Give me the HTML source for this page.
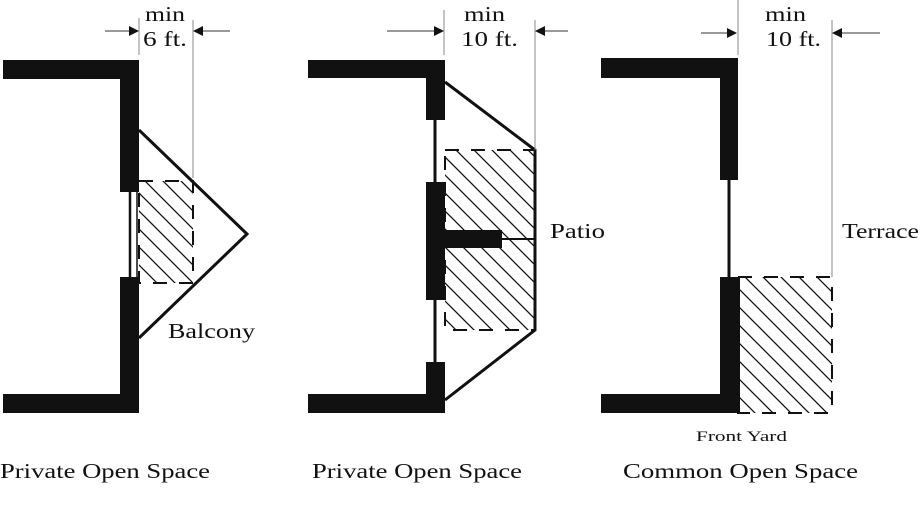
<!DOCTYPE html>
<html><head><meta charset="utf-8"><style>
html,body{margin:0;padding:0;background:#fff;width:921px;height:505px;overflow:hidden}
svg{display:block}
text{font-family:"Liberation Serif",serif;fill:#111}
</style></head><body>
<svg width="921" height="505" viewBox="0 0 921 505">
<defs>
<pattern id="hatch" patternUnits="userSpaceOnUse" width="18" height="18">
<path d="M0,0 L18,18 M-9,9 L9,27 M9,-9 L27,9" stroke="#111" stroke-width="1.3"/>
</pattern>
<marker id="ah" markerWidth="10" markerHeight="10" refX="9" refY="5" orient="auto" markerUnits="userSpaceOnUse">
<path d="M0,0 L10,5 L0,10 Z" fill="#111"/>
</marker>
</defs>

<!-- Panel 1 -->
<g>
<rect x="139" y="181" width="54" height="102" fill="url(#hatch)"/>
<rect x="139" y="181" width="54" height="102" fill="none" stroke="#111" stroke-width="2" stroke-dasharray="14,12"/>
<polyline points="139,130 247,234 139,338" fill="none" stroke="#111" stroke-width="3"/>
<path d="M3,60 H139 V192 H120 V79 H3 Z" fill="#111"/>
<path d="M3,413 H139 V277 H120 V394 H3 Z" fill="#111"/>
<line x1="130" y1="192" x2="130" y2="277" stroke="#111" stroke-width="2.5"/>
<line x1="137" y1="192" x2="137" y2="277" stroke="#111" stroke-width="1.5"/>
<line x1="139" y1="18" x2="139" y2="55" stroke="#888" stroke-width="1"/>
<line x1="193" y1="20" x2="193" y2="178" stroke="#888" stroke-width="1"/>
<line x1="105" y1="31" x2="138" y2="31" stroke="#333" stroke-width="1" marker-end="url(#ah)"/>
<line x1="230" y1="31" x2="194" y2="31" stroke="#333" stroke-width="1" marker-end="url(#ah)"/>
<text x="145" y="21" font-size="21" textLength="40" lengthAdjust="spacingAndGlyphs">min</text>
<text x="143" y="46" font-size="21" textLength="44" lengthAdjust="spacingAndGlyphs">6 ft.</text>
<text x="168" y="338" font-size="21" textLength="87" lengthAdjust="spacingAndGlyphs">Balcony</text>
<text x="0" y="478" font-size="21" textLength="210" lengthAdjust="spacingAndGlyphs">Private Open Space</text>
</g>

<!-- Panel 2 -->
<g>
<rect x="445" y="150" width="90" height="180" fill="url(#hatch)"/>
<rect x="445" y="150" width="90" height="180" fill="none" stroke="#111" stroke-width="2" stroke-dasharray="14,12"/>
<polyline points="445,82 535,150 535,330 445,400" fill="none" stroke="#111" stroke-width="3"/>
<path d="M308,60 H445 V120 H426 V78 H308 Z" fill="#111"/>
<path d="M308,413 H445 V362 H426 V394 H308 Z" fill="#111"/>
<rect x="426" y="182" width="19" height="118" fill="#111"/>
<rect x="445" y="230" width="57" height="18" fill="#111"/>
<line x1="502" y1="239" x2="535" y2="239" stroke="#111" stroke-width="2"/>
<line x1="435" y1="120" x2="435" y2="182" stroke="#111" stroke-width="3"/>
<line x1="435" y1="300" x2="435" y2="362" stroke="#111" stroke-width="3"/>
<line x1="444" y1="10" x2="444" y2="55" stroke="#888" stroke-width="1"/>
<line x1="535" y1="20" x2="535" y2="150" stroke="#888" stroke-width="1"/>
<line x1="387" y1="31" x2="443" y2="31" stroke="#333" stroke-width="1" marker-end="url(#ah)"/>
<line x1="568" y1="31" x2="536" y2="31" stroke="#333" stroke-width="1" marker-end="url(#ah)"/>
<text x="464" y="21" font-size="21" textLength="41" lengthAdjust="spacingAndGlyphs">min</text>
<text x="461" y="46" font-size="21" textLength="57" lengthAdjust="spacingAndGlyphs">10 ft.</text>
<text x="550" y="238" font-size="21" textLength="55" lengthAdjust="spacingAndGlyphs">Patio</text>
<text x="312" y="478" font-size="21" textLength="210" lengthAdjust="spacingAndGlyphs">Private Open Space</text>
</g>

<!-- Panel 3 -->
<g>
<rect x="738" y="277" width="94" height="136" fill="url(#hatch)"/>
<rect x="738" y="277" width="94" height="136" fill="none" stroke="#111" stroke-width="2" stroke-dasharray="14,12"/>
<path d="M601,58 H738 V180 H720 V78 H601 Z" fill="#111"/>
<path d="M601,413 H740 V277 H720 V394 H601 Z" fill="#111"/>
<line x1="729" y1="180" x2="729" y2="277" stroke="#111" stroke-width="3"/>
<line x1="738" y1="0" x2="738" y2="55" stroke="#888" stroke-width="1"/>
<line x1="832" y1="20" x2="832" y2="277" stroke="#888" stroke-width="1"/>
<line x1="701" y1="33" x2="736" y2="33" stroke="#333" stroke-width="1" marker-end="url(#ah)"/>
<line x1="880" y1="33" x2="833" y2="33" stroke="#333" stroke-width="1" marker-end="url(#ah)"/>
<text x="765" y="21" font-size="21" textLength="41" lengthAdjust="spacingAndGlyphs">min</text>
<text x="766" y="46" font-size="21" textLength="55" lengthAdjust="spacingAndGlyphs">10 ft.</text>
<text x="842" y="238" font-size="21" textLength="77" lengthAdjust="spacingAndGlyphs">Terrace</text>
<text x="696" y="441" font-size="15" textLength="91" lengthAdjust="spacingAndGlyphs">Front Yard</text>
<text x="623" y="478" font-size="21" textLength="235" lengthAdjust="spacingAndGlyphs">Common Open Space</text>
</g>
</svg>
</body></html>
